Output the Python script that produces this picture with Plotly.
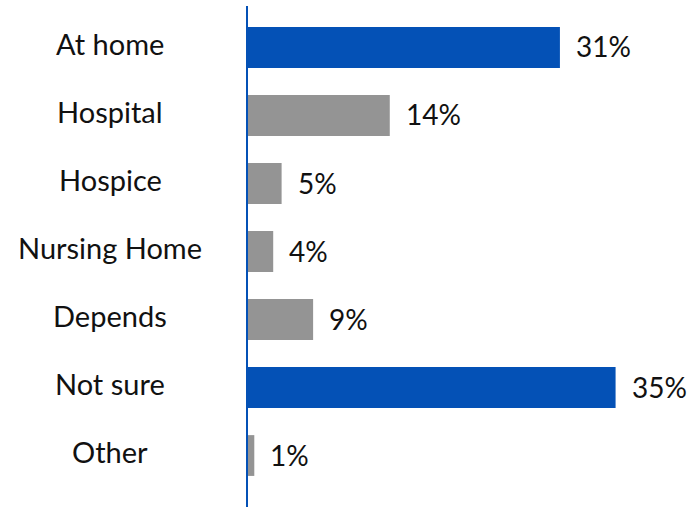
import plotly.graph_objects as go

categories = ["At home", "Hospital", "Hospice", "Nursing Home", "Depends", "Not sure", "Other"]
bar_values = [29.7, 13.5, 3.2, 2.4, 6.2, 35.0, 0.6]
value_labels = ["31%", "14%", "5%", "4%", "9%", "35%", "1%"]
highlight = [True, False, False, False, False, True, False]

BLUE = "#0451B6"
GRAY = "#949494"
FONT = "Gill Sans, Gill Sans MT, Lato, sans-serif"

colors = [BLUE if h else GRAY for h in highlight]

fig = go.Figure()
fig.add_trace(go.Bar(
    x=bar_values, y=categories, orientation="h",
    marker=dict(color=colors, line=dict(width=0)),
    hoverinfo="skip",
))

for cat, v, lab in zip(categories, bar_values, value_labels):
    fig.add_annotation(x=v, y=cat, text=lab, showarrow=False,
                       xanchor="left", yanchor="middle", xshift=14, yshift=1,
                       font=dict(family=FONT, size=28, color="#111111"))
    fig.add_annotation(x=-0.314, xref="paper", y=cat, yref="y", text=cat,
                       showarrow=False, xanchor="center", yanchor="middle",
                       yshift=4,
                       font=dict(family=FONT, size=29, color="#111111"))

fig.update_layout(
    width=687, height=507,
    margin=dict(l=248, r=0, t=6, b=0),
    paper_bgcolor="white", plot_bgcolor="white",
    bargap=0.4, showlegend=False,
    xaxis=dict(range=[0, 41.8], visible=False, fixedrange=True),
    yaxis=dict(range=[6.757, -0.61], showticklabels=False, showgrid=False,
               zeroline=False, showline=True, linecolor=BLUE, linewidth=2,
               ticks="", fixedrange=True),
)

fig.write_html("out.html", config={"displayModeBar": False},
               post_script="document.body.style.margin='0';document.body.style.overflow='hidden';")
